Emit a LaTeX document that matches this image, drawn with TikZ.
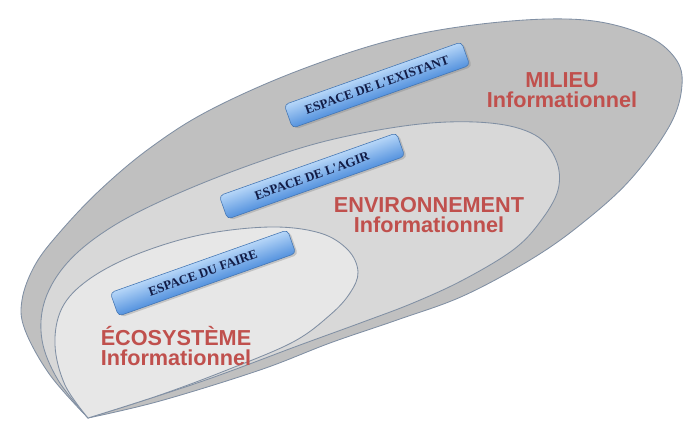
\documentclass[tikz,border=0pt]{standalone}
\usepackage{fontspec}
\usepackage{tikz}
\usetikzlibrary{shadows}
\newfontfamily\titrefont{Liberation Sans}
\newfontfamily\espacefont{Liberation Serif}
\definecolor{milieugris}{RGB}{192,192,192}
\definecolor{envgris}{RGB}{216,216,216}
\definecolor{ecogris}{RGB}{231,231,231}
\definecolor{bord}{RGB}{128,143,163}
\definecolor{rouge}{RGB}{192,80,77}
\definecolor{marine}{RGB}{18,28,70}
\definecolor{bleuhaut}{RGB}{182,214,248}
\definecolor{bleubas}{RGB}{84,146,222}
\begin{document}
\begin{tikzpicture}[x=0.025cm, y=0.025cm,
  zone/.style={draw=bord, line width=0.6pt},
  espace/.style={draw=bleubas!80!black, line width=0.4pt, rounded corners=3pt,
    top color=bleuhaut, bottom color=bleubas, minimum width=4.7cm, minimum height=0.62cm,
    inner sep=0pt, font=\espacefont\bfseries\fontsize{9.2}{10}\selectfont, text=marine,
    drop shadow={shadow xshift=1.2pt, shadow yshift=-1.5pt, opacity=0.35}},
  titre/.style={align=center, text=rouge, font=\titrefont\bfseries\fontsize{15.4}{14.2}\selectfont}]
  \useasboundingbox (0,0) rectangle (684,-422);
  % zones
  \filldraw[zone, fill=milieugris] plot[smooth, tension=0.6] coordinates {(88,-418) (50,-375) (25,-330) (22,-300) (35,-265) (60,-232) (100,-190) (150,-148) (210,-110) (300,-70) (400,-38) (500,-22) (585,-20) (645,-35) (675,-58) (682,-85) (670,-125) (630,-180) (580,-225) (530,-260) (463,-296) (397,-320) (330,-343) (260,-370) (160,-401) (88,-418)} -- cycle;
  \filldraw[zone, fill=envgris] plot[smooth, tension=0.6] coordinates {(88,-418) (58,-380) (42,-340) (45,-300) (68,-262) (110,-228) (170,-197) (250,-165) (330,-140) (420,-124) (490,-123) (535,-135) (556,-160) (558,-190) (540,-222) (513,-250) (463,-280) (413,-303) (363,-322) (300,-345) (200,-382) (88,-418)} -- cycle;
  \filldraw[zone, fill=ecogris] plot[smooth, tension=0.6] coordinates {(88,-418) (65,-385) (55,-345) (62,-308) (88,-280) (135,-255) (200,-235) (270,-227) (320,-233) (348,-250) (358,-272) (350,-293) (330,-315) (293,-342) (227,-370) (160,-395) (88,-418)} -- cycle;
  % espaces (canvas rotation keeps the shading across the box)
  \begin{scope}[transform canvas={rotate around={19.5:(377,-85)}}]
    \node[espace] (existant) at (377,-85) {ESPACE DE L'EXISTANT};
  \end{scope}
  \begin{scope}[transform canvas={rotate around={19.5:(312,-176)}}]
    \node[espace] (agir) at (312,-176) {ESPACE DE L'AGIR};
  \end{scope}
  \begin{scope}[transform canvas={rotate around={19.5:(203,-273)}}]
    \node[espace] (faire) at (203,-273) {ESPACE DU FAIRE};
  \end{scope}
  % titres
  \node[titre] (milieu) at (562,-90) {MILIEU\\Informationnel};
  \node[titre] (environnement) at (429,-215) {ENVIRONNEMENT\\Informationnel};
  \node[titre] (ecosysteme) at (176,-346) {ÉCOSYSTÈME\\Informationnel};
\end{tikzpicture}
\end{document}
